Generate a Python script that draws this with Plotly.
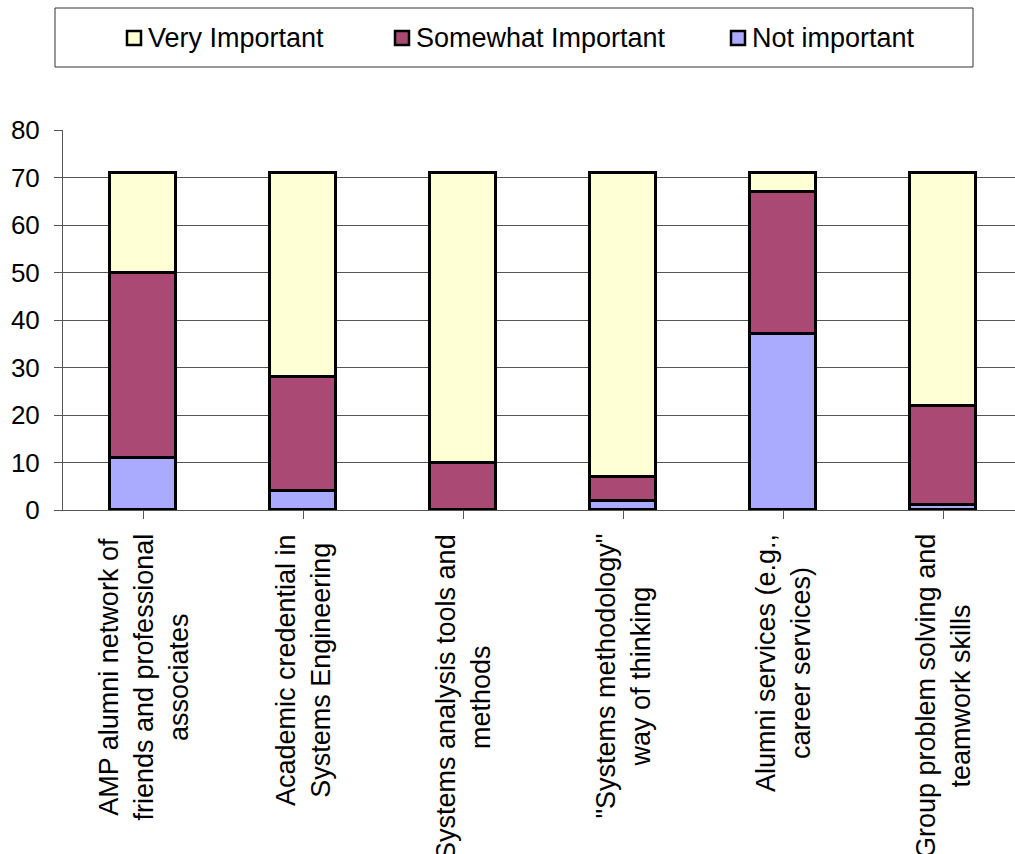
import plotly.graph_objects as go

# Survey results: how important each programme benefit is to respondents
categories = [
    "AMP alumni network of<br>friends and professional<br>associates",
    "Academic credential in<br>Systems Engineering",
    "Systems analysis tools and<br>methods",
    "\"Systems methodology\"<br>way of thinking",
    "Alumni services (e.g.,<br>career services)",
    "Group problem solving and<br>teamwork skills",
]
not_important = [11, 4, 0, 2, 37, 1]
somewhat_important = [39, 24, 10, 5, 30, 21]
very_important = [21, 43, 61, 64, 4, 49]

series_names = ["Very Important", "Somewhat Important", "Not important"]
series_colors = {
    "Very Important": "#FFFFD5",
    "Somewhat Important": "#AA4A74",
    "Not important": "#AAAAFF",
}

FONT = "Arial, Liberation Sans, sans-serif"
W, H = 1015, 854
LEFT, TOP, BOTTOM_PX = 63, 130, 510   # plot area edges in pixels
PLOT_W = W - LEFT
PLOT_H = BOTTOM_PX - TOP

def px_x(p):
    return (p - LEFT) / PLOT_W

def px_y(p):
    return (BOTTOM_PX - p) / PLOT_H

xs = list(range(len(categories)))

fig = go.Figure()
for name, vals in [("Not important", not_important),
                   ("Somewhat Important", somewhat_important),
                   ("Very Important", very_important)]:
    fig.add_trace(go.Bar(
        x=xs, y=vals, name=name, width=0.41,
        marker=dict(color=series_colors[name], line=dict(color="black", width=3)),
        showlegend=False,
    ))

shapes = []
annotations = []

# Legend frame
shapes.append(dict(type="rect", xref="paper", yref="paper",
                   x0=px_x(55), x1=px_x(973), y0=px_y(67), y1=px_y(8),
                   line=dict(color="#333333", width=1), fillcolor="white", layer="above"))

legend_pos = {"Very Important": 127, "Somewhat Important": 395, "Not important": 731}
for name in series_names:
    sx = legend_pos[name]
    shapes.append(dict(type="rect", xref="paper", yref="paper",
                       x0=px_x(sx), x1=px_x(sx + 14), y0=px_y(45), y1=px_y(31),
                       line=dict(color="black", width=2.5),
                       fillcolor=series_colors[name], layer="above"))
    annotations.append(dict(text=name, xref="paper", yref="paper",
                            x=px_x(sx + 19), y=px_y(38), xanchor="left", yanchor="middle",
                            showarrow=False, font=dict(family=FONT, size=27, color="black")))

# Rotated, centred category labels under each bar
for i, label in enumerate(categories):
    annotations.append(dict(text=label, x=xs[i], xref="x", yref="paper",
                            y=px_y(532), xanchor="center", yanchor="top",
                            textangle=-90, align="center", showarrow=False,
                            font=dict(family=FONT, size=27, color="black")))

fig.update_layout(
    width=W, height=H,
    barmode="stack", bargap=0,
    paper_bgcolor="white", plot_bgcolor="white",
    margin=dict(l=LEFT, r=0, t=TOP, b=H - BOTTOM_PX, pad=0),
    font=dict(family=FONT, size=27, color="black"),
    shapes=shapes, annotations=annotations,
    xaxis=dict(range=[-0.5, 5.45], tickvals=xs, ticktext=[""] * len(xs),
               tickson="boundaries", ticks="outside", ticklen=8,
               tickcolor="#555555", showline=True, linecolor="#555555",
               showgrid=False, zeroline=False),
    yaxis=dict(range=[0, 80], dtick=10, ticks="outside", ticklen=8,
               tickcolor="#555555", showline=True, linecolor="#555555",
               gridcolor="#555555", gridwidth=1, zeroline=False,
               tickfont=dict(family=FONT, size=26, color="black"),
               ticklabelstandoff=9),
)

fig.write_html("out.html")
